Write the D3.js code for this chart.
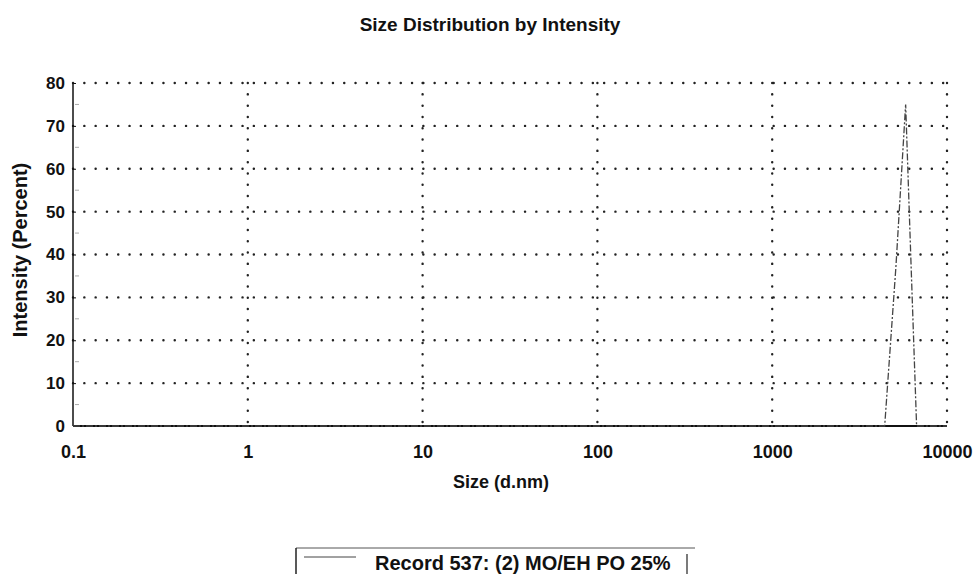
<!DOCTYPE html>
<html>
<head>
<meta charset="utf-8">
<script src="https://cdn.jsdelivr.net/npm/d3@7"></script>
<style>
  html, body { margin: 0; padding: 0; background: #fff; }
  svg { display: block; font-family: "Liberation Sans", Arial, sans-serif; }
</style>
</head>
<body>
<svg id="chart" width="980" height="574"></svg>
<script>
// Data
const sizes = [0.1, 4400, 5100, 5800, 6200, 6700, 10000];
const intensity = [0, 0, 37, 75, 40, 0, 0];
const xTicks = [0.1, 1, 10, 100, 1000, 10000];
const yTicks = [0, 10, 20, 30, 40, 50, 60, 70, 80];
const legendLabel = "Record 537: (2) MO/EH PO 25%";

const svg = d3.select("#chart");
const margin = { top: 83, right: 33, bottom: 148, left: 73 };
const width = 980, height = 574;
const innerW = width - margin.left - margin.right;
const innerH = height - margin.top - margin.bottom;

const x = d3.scaleLog().domain([0.1, 10000]).range([0, innerW]);
const y = d3.scaleLinear().domain([0, 80]).range([innerH, 0]);

const g = svg.append("g").attr("transform", `translate(${margin.left},${margin.top})`);

// Dotted grid
const dots = { stroke: "#222", "stroke-width": 2.4, "stroke-dasharray": "0.1,11.2", "stroke-linecap": "round" };
yTicks.filter(d => d > 0).forEach(t => {
  const l = g.append("line").attr("x1", 0).attr("x2", innerW).attr("y1", y(t)).attr("y2", y(t));
  Object.entries(dots).forEach(([k, v]) => l.attr(k, v));
});
xTicks.filter(d => d > 0.1).forEach(t => {
  const l = g.append("line").attr("x1", x(t)).attr("x2", x(t)).attr("y1", 0).attr("y2", innerH);
  Object.entries(dots).forEach(([k, v]) => l.attr(k, v));
});

// Minor y ticks
d3.range(5, 80, 10).forEach(t => {
  g.append("line").attr("x1", 2).attr("x2", 6).attr("y1", y(t)).attr("y2", y(t))
    .attr("stroke", "#aaa").attr("stroke-width", 1);
});

// Axes
g.append("line").attr("x1", 0).attr("x2", 0).attr("y1", 0).attr("y2", innerH)
  .attr("stroke", "#111").attr("stroke-width", 1.5);
g.append("line").attr("x1", 0).attr("x2", innerW).attr("y1", innerH).attr("y2", innerH)
  .attr("stroke", "#111").attr("stroke-width", 2.2);

const yAxis = d3.axisLeft(y).tickValues(yTicks).tickSize(4).tickFormat(d3.format("d"));
g.append("g").call(yAxis)
  .call(a => a.select(".domain").remove())
  .call(a => a.selectAll("line").attr("stroke", "#111").attr("x2", 3))
  .call(a => a.selectAll("text").attr("x", -8).attr("fill", "#111")
    .style("font-size", "17px").style("font-weight", "bold"));

const xAxis = d3.axisBottom(x).tickValues(xTicks).tickSize(0).tickFormat(d => String(d));
g.append("g").attr("transform", `translate(0,${innerH})`).call(xAxis)
  .call(a => a.select(".domain").remove())
  .call(a => a.selectAll("text").attr("y", 19).attr("dy", "0.71em").attr("fill", "#111")
    .style("font-size", "18px").style("font-weight", "bold"));

// Data line
const line = d3.line().x((d, i) => x(sizes[i])).y(d => y(d));
g.append("path").datum(intensity).attr("d", line)
  .attr("fill", "none").attr("stroke", "#444").attr("stroke-width", 1.3)
  .attr("stroke-dasharray", "7,2,2,2");

// Titles
svg.append("text").attr("x", 490).attr("y", 31).attr("text-anchor", "middle")
  .style("font-size", "19px").style("font-weight", "bold").attr("fill", "#111")
  .text("Size Distribution by Intensity");
svg.append("text").attr("x", 501).attr("y", 488).attr("text-anchor", "middle")
  .style("font-size", "18px").style("font-weight", "bold").attr("fill", "#111")
  .text("Size (d.nm)");
svg.append("text").attr("transform", "translate(27,250) rotate(-90)").attr("text-anchor", "middle")
  .style("font-size", "20px").style("font-weight", "bold").attr("fill", "#111")
  .text("Intensity (Percent)");

// Legend
const lg = svg.append("g").attr("transform", "translate(296,548)");
lg.append("line").attr("x1", 0).attr("x2", 399).attr("y1", 0).attr("y2", 0).attr("stroke", "#555").attr("stroke-width", 1);
lg.append("line").attr("x1", 0).attr("x2", 0).attr("y1", 0).attr("y2", 26).attr("stroke", "#222").attr("stroke-width", 1.5);
lg.append("line").attr("x1", 8).attr("x2", 60).attr("y1", 9).attr("y2", 9).attr("stroke", "#444").attr("stroke-width", 1);
lg.append("text").attr("x", 79).attr("y", 22).style("font-size", "20px").style("font-weight", "bold")
  .attr("fill", "#111").text(legendLabel);
lg.append("line").attr("x1", 391).attr("x2", 391).attr("y1", 6).attr("y2", 26).attr("stroke", "#222").attr("stroke-width", 1.2);
</script>
</body>
</html>
